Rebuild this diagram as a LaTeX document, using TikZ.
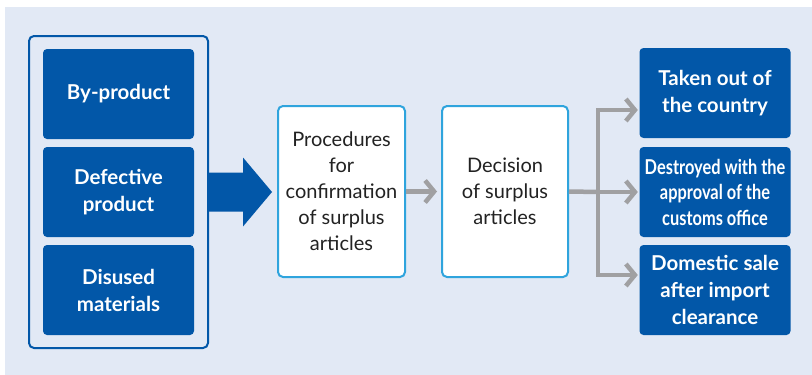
\documentclass[tikz,border=0pt]{standalone}
\usepackage{fontspec}
\setmainfont{Lato}
\newfontfamily\condfont[FakeStretch=0.8]{Lato}
\usetikzlibrary{arrows.meta,calc}
\definecolor{bg}{HTML}{E2E9F5}
\definecolor{dblue}{HTML}{0257A8}
\definecolor{lblue}{HTML}{2FA4DD}
\definecolor{agray}{HTML}{A0A0A2}
\definecolor{tgray}{HTML}{222222}
\tikzset{
  dbox/.style={fill=dblue, rounded corners=4pt, text=white, align=center, inner sep=0pt,
    minimum width=151pt, minimum height=90pt, font=\bfseries\fontsize{20.5}{27}\selectfont},
  wbox/.style={fill=white, draw=lblue, line width=2pt, rounded corners=5pt, text=tgray,
    align=center, inner sep=0pt, minimum height=171pt, font=\fontsize{20}{26}\selectfont},
  frame/.style={draw=dblue, line width=2pt, rounded corners=5pt, inner sep=0pt},
  garrow/.style={draw=agray, line width=4.5pt, -{Straight Barb[length=9pt,width=22pt,line width=4.5pt]}},
  gline/.style={draw=agray, line width=4.5pt},
}
\begin{document}
\begin{tikzpicture}[x=1pt,y=-1pt]
\useasboundingbox (0,0) rectangle (812,375);
\fill[bg] (5,7) rectangle (812,375);
\node[frame, minimum width=179pt, minimum height=312pt] (outer) at (118.5,192) {};
\node[dbox] (bp) at (118.5,94) {By-product};
\node[dbox] (dp) at (118.5,192) {Defective\\product};
\node[dbox] (dm) at (118.5,290) {Disused\\materials};
\node[wbox, minimum width=127pt] (proc) at (341.5,191.5) {Procedures\\for\\confirmation\\of surplus\\articles};
\node[wbox, minimum width=126pt] (dec) at (505,191.5) {Decision\\of surplus\\articles};
\node[dbox] (r1) at (715,93) {Taken out of\\the country};
\node[dbox, font=\condfont\bfseries\fontsize{20.5}{25.5}\selectfont] (r2) at (715,192) {Destroyed with the\\approval of the\\customs office};
\node[dbox] (r3) at (715,290) {Domestic sale\\after import\\clearance};
% big block arrow
\fill[dblue] ($(outer.east)+(0,-19.5)$) -- ++(34,0) -- ++(0,-15) -- ($(outer.east)+(63,0)$)
  -- ($(outer.east)+(34,34.5)$) -- ++(0,-15) -- ($(outer.east)+(0,19.5)$) -- cycle;
% gray connectors
\draw[garrow, shorten >=4pt] (proc.east) -- (dec.west);
\coordinate (j) at (598,192);
\coordinate (t1) at (598,110);
\coordinate (t3) at (598,275);
\draw[gline] (dec.east) -- (j);
\draw[gline, line cap=rect] (t1) -- (t3);
\draw[garrow, shorten >=1.5pt] (t1) -- (t1 -| r1.west);
\draw[garrow, shorten >=1.5pt] (j) -- (r2.west);
\draw[garrow, shorten >=1.5pt] (t3) -- (t3 -| r3.west);
\end{tikzpicture}
\end{document}
